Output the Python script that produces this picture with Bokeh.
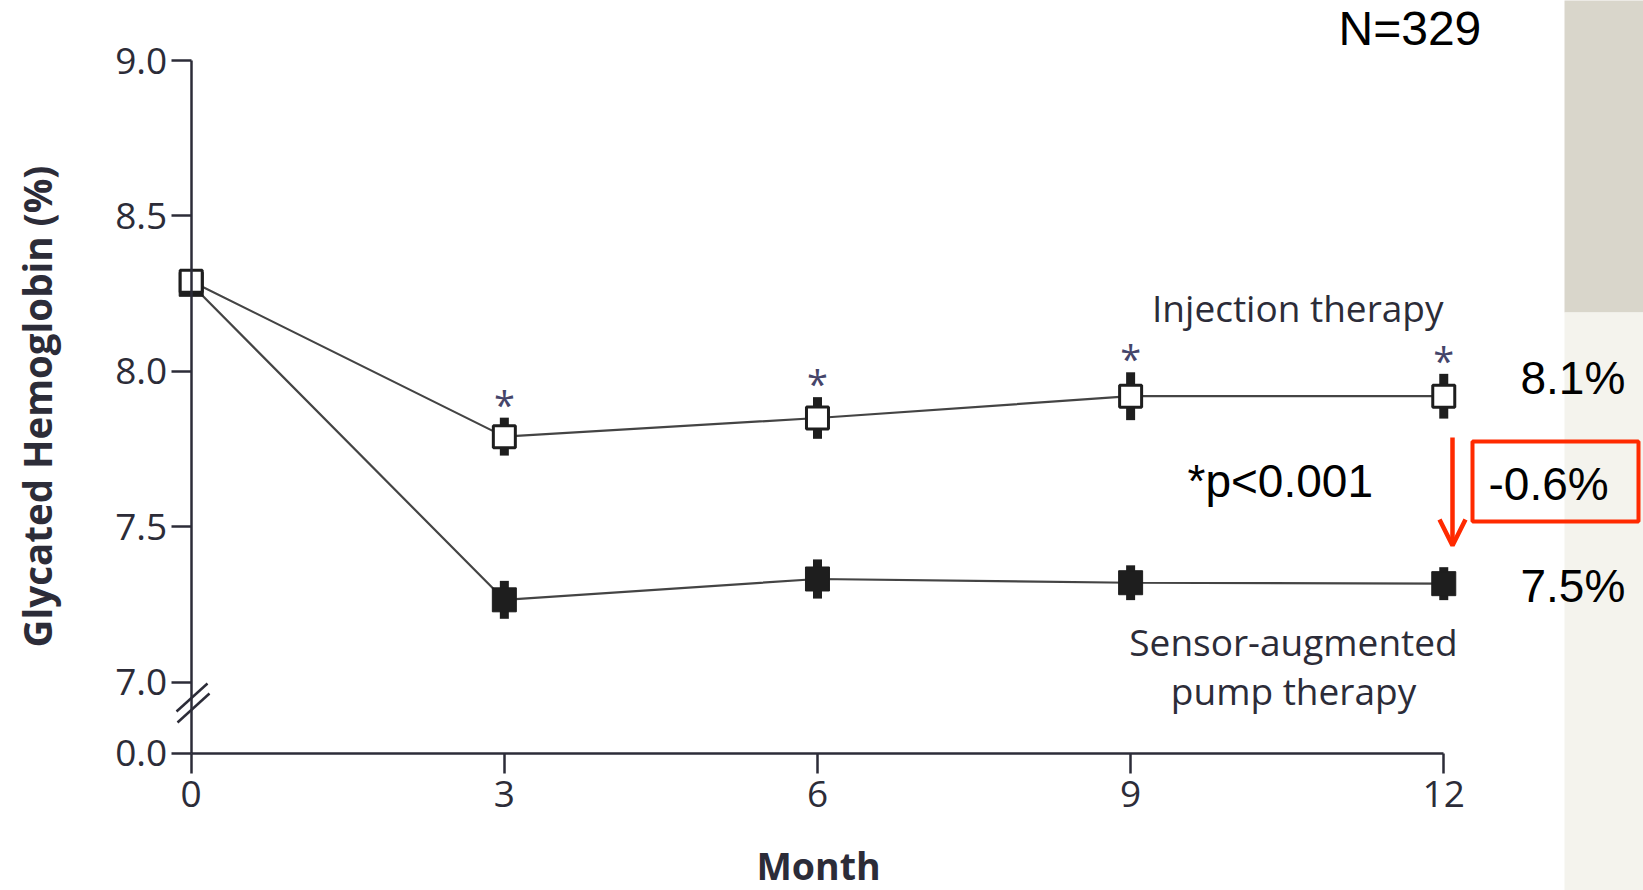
import math

from bokeh.core.properties import value
from bokeh.embed import file_html
from bokeh.models import (Arrow, BoxAnnotation, ColumnDataSource, FixedTicker,
                          Label, OpenHead, Range1d)
from bokeh.plotting import figure
from bokeh.resources import INLINE

# ---- data -------------------------------------------------------------
months = [0, 3, 6, 9, 12]
month_ticks = [0, 3, 6, 9, 12]

injection = [8.29, 7.79, 7.85, 7.92, 7.92]
injection_err = [0.03, 0.061, 0.067, 0.077, 0.072]

pump = [8.28, 7.265, 7.332, 7.32, 7.317]
pump_err = [0.03, 0.061, 0.063, 0.056, 0.053]

significant_months = [3, 6, 9, 12]

y_ticks = [7.0, 7.5, 8.0, 8.5, 9.0]
y_tick_labels = ["7.0", "7.5", "8.0", "8.5", "9.0"]
zero_label = "0.0"

label_injection = "Injection therapy"
label_pump = ["Sensor-augmented", "pump therapy"]
label_n = "N=329"
label_inj_end = "8.1%"
label_pump_end = "7.5%"
label_diff = "-0.6%"
label_p = "*p<0.001"
x_title = "Month"
y_title = "Glycated Hemoglobin (%)"

# ---- layout constants -------------------------------------------------
W, H = 1643, 890
AX_X = 190.7           # canvas x of month 0
AX_Y = 752.7           # canvas y of the "0.0" tick
PX_X = 104.38          # pixels per month
PX_Y = 310.85          # pixels per HbA1c unit
Y_BREAK_ZERO = 7.0 - 71.0 / PX_Y   # axis value where "0.0" sits below the break

x_start = -AX_X / PX_X
x_end = (W - AX_X) / PX_X
y_start = Y_BREAK_ZERO - (H - AX_Y) / PX_Y
y_end = Y_BREAK_ZERO + AX_Y / PX_Y


def px_x(px):
    return (px - AX_X) / PX_X


def px_y(py):
    return Y_BREAK_ZERO + (AX_Y - py) / PX_Y


BASE_SHIFT = 0.36      # label anchor correction, in em

NEJM_FONT = "Open Sans"
SLIDE_FONT = "Liberation Sans"
INK = "#2c2c38"
RED = "#ff2a00"

p = figure(width=W, height=H, output_backend="svg", toolbar_location=None,
           x_range=Range1d(x_start, x_end), y_range=Range1d(y_start, y_end),
           min_border_left=0, min_border_right=0, min_border_top=0,
           min_border_bottom=0)
p.outline_line_color = None
p.grid.visible = False
p.background_fill_color = "white"
p.border_fill_color = "white"

# ---- background strip at the right edge -------------------------------
p.add_layout(BoxAnnotation(left=px_x(1564), right=x_end + 1, top=y_end + 1,
                           bottom=px_y(312), fill_color="#d9d6cb", fill_alpha=1,
                           line_color=None))
p.add_layout(BoxAnnotation(left=px_x(1564), right=x_end + 1, top=px_y(312),
                           bottom=y_start - 1, fill_color="#f4f3ed",
                           fill_alpha=1, line_color=None))

# ---- axes (pinned to the data origin) ------------------------------------
for ax in (p.xaxis, p.yaxis):
    ax.axis_line_color = INK
    ax.axis_line_width = 2.5
    ax.major_tick_line_color = INK
    ax.major_tick_line_width = 2.5
    ax.major_tick_out = 20
    ax.major_tick_in = 0
    ax.minor_tick_line_color = None
    ax.major_label_text_font = NEJM_FONT
    ax.major_label_text_font_size = "37px"
    ax.major_label_text_color = INK

p.xaxis.fixed_location = Y_BREAK_ZERO
p.xaxis.ticker = FixedTicker(ticks=month_ticks)
p.xaxis.bounds = (0, 12)
p.xaxis.major_label_standoff = 8

p.yaxis.fixed_location = 0
p.yaxis.ticker = FixedTicker(ticks=[Y_BREAK_ZERO] + y_ticks)
overrides = {Y_BREAK_ZERO: zero_label}
overrides.update({t: s for t, s in zip(y_ticks, y_tick_labels)})
p.yaxis.major_label_overrides = overrides
p.yaxis.bounds = (Y_BREAK_ZERO, 9.0)
p.yaxis.major_label_standoff = 4

# axis break marks
for (xa, ya, xb, yb) in [(176, 711, 207, 683), (177, 722, 209, 693)]:
    p.add_layout(Arrow(end=None, x_start=px_x(xa), y_start=px_y(ya),
                       x_end=px_x(xb), y_end=px_y(yb),
                       line_color=INK, line_width=2.5))

# ---- series ---------------------------------------------------------------
src_pump = ColumnDataSource(dict(
    x=months, y=pump,
    lo=[v - e for v, e in zip(pump, pump_err)],
    hi=[v + e for v, e in zip(pump, pump_err)]))
src_inj = ColumnDataSource(dict(
    x=months, y=injection,
    lo=[v - e for v, e in zip(injection, injection_err)],
    hi=[v + e for v, e in zip(injection, injection_err)]))

p.line("x", "y", source=src_pump, line_color="#444444", line_width=2.2)
p.line("x", "y", source=src_inj, line_color="#444444", line_width=2.2)

p.segment(x0="x", y0="lo", x1="x", y1="hi", source=src_pump,
          line_color="#1e1e1e", line_width=9)
p.scatter("x", "y", source=src_pump, marker="square", size=24,
          fill_color="#1e1e1e", line_color="#1e1e1e", line_width=1)

p.segment(x0="x", y0="lo", x1="x", y1="hi", source=src_inj,
          line_color="#1e1e1e", line_width=9)
p.scatter("x", "y", source=src_inj, marker="square", size=22,
          fill_color="white", line_color="#1e1e1e", line_width=3)

# significance asterisks above the injection-therapy points
star_y = [injection[months.index(m)] + injection_err[months.index(m)]
          for m in significant_months]
p.text(x=significant_months, y=star_y, text=["*"] * len(significant_months),
       text_font=value(NEJM_FONT), text_font_size="38px", text_color="#45456a",
       text_align="center", text_baseline="alphabetic", y_offset=-14)


def label(txt, xp, base_py, size, font, color, align="left", bold=False,
          angle=0.0, baseline="alphabetic", shift=True):
    yy = base_py - (BASE_SHIFT * size if shift else 0)
    p.add_layout(Label(x=px_x(xp), y=px_y(yy), text=txt, text_font=font,
                       text_font_size=f"{size}px",
                       text_font_style="bold" if bold else "normal",
                       text_color=color, text_align=align,
                       text_baseline=baseline, angle=angle))


# ---- series labels --------------------------------------------------------
label(label_injection, 1443, 320, 37, NEJM_FONT, INK, align="right")
label(label_pump[0], 1293, 654, 37, NEJM_FONT, INK, align="center")
label(label_pump[1], 1293, 703, 37, NEJM_FONT, INK, align="center")

# ---- axis titles ------------------------------------------------------------
label(x_title, 818, 878, 37.5, NEJM_FONT, INK, align="center", bold=True)
label(y_title, 36, 406, 38.5, NEJM_FONT, INK, align="center", bold=True,
      angle=math.pi / 2, baseline="middle", shift=False)

# ---- slide annotations --------------------------------------------------
label(label_n, 1338, 45, 48, SLIDE_FONT, "black")
label(label_inj_end, 1520, 394, 46, SLIDE_FONT, "black")
label(label_pump_end, 1520, 602, 46, SLIDE_FONT, "black")
label(label_diff, 1488, 500, 46, SLIDE_FONT, "black")
label(label_p, 1187, 497, 46, SLIDE_FONT, "black")

p.add_layout(BoxAnnotation(left=px_x(1472), right=px_x(1638), top=px_y(441),
                           bottom=px_y(521), fill_color=None, fill_alpha=0,
                           line_color=RED, line_alpha=1, line_width=4))
p.add_layout(Arrow(end=OpenHead(size=26, line_color=RED, line_width=4.5),
                   x_start=px_x(1452), y_start=px_y(437),
                   x_end=px_x(1452), y_end=px_y(545),
                   line_color=RED, line_width=4.5))

open("out.html", "w").write(file_html(p, INLINE))
